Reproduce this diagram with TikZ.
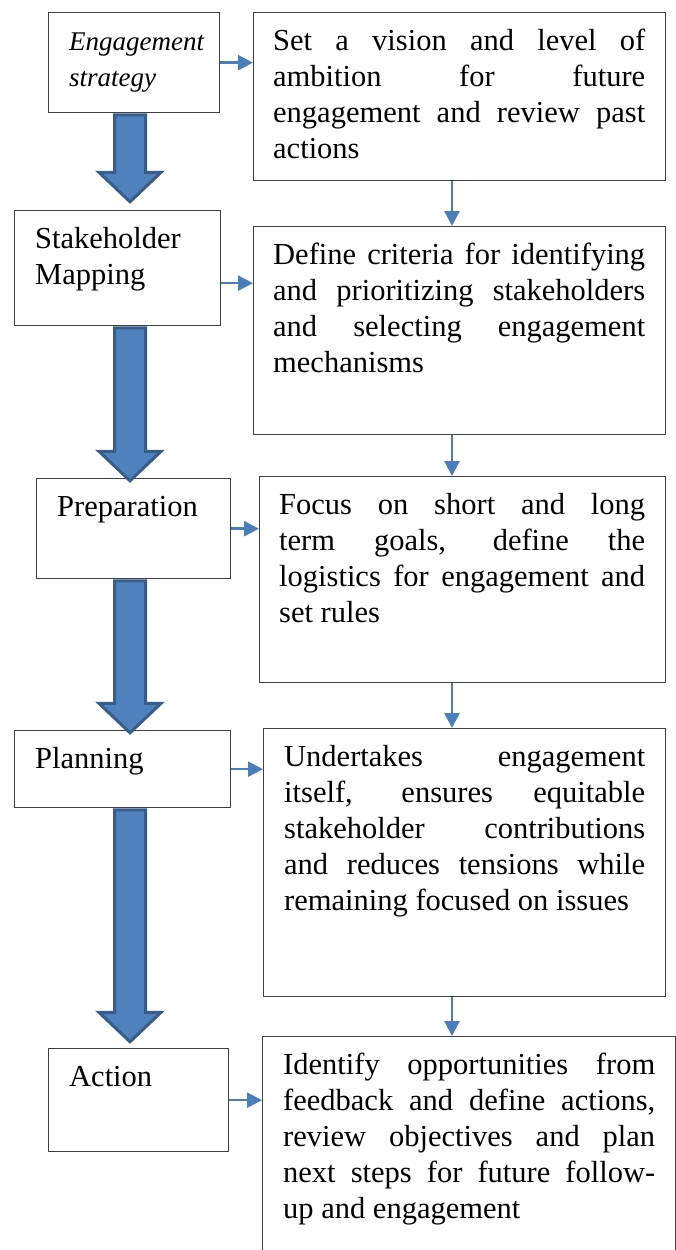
\documentclass[tikz,border=0pt]{standalone}
\usepackage{fontspec}
\setmainfont{Liberation Serif}
\usetikzlibrary{arrows.meta,positioning,calc,shapes.arrows}
\definecolor{boxgray}{RGB}{64, 64, 64}
\definecolor{linkblue}{RGB}{74, 126, 187}
\definecolor{fatfill}{RGB}{79, 129, 189}
\definecolor{fatedge}{RGB}{56, 93, 138}
\tolerance=10000
\hbadness=10000
\hyphenpenalty=10000

\begin{document}
\begin{tikzpicture}[x=1pt, y=-1pt,
		stageBox/.style={draw=boxgray, line width=1.3pt, fill=white, anchor=north west, inner sep=0pt},
		stageText/.style={anchor=base west, inner sep=0pt, text width=170pt, align=left, font=\fontsize{30.5}{36}\selectfont},
		detailText/.style={anchor=base west, inner sep=0pt, align=justify, font=\fontsize{30.5}{36}\selectfont},
		linkLine/.style={line width=2.4pt, color=linkblue, -{Triangle[length=15pt, width=15pt]}},
		fatArrow/.style={single arrow, draw=fatedge, fill=fatfill, line width=3pt, rotate=-90, anchor=tail, inner sep=0pt, text height=14pt, text depth=14pt, single arrow head extend=15.5pt, single arrow tip angle=93, single arrow head indent=0pt}
		]
		
		\path[use as bounding box, clip] (0,0) rectangle (676,1250);
		\coordinate (spine) at (130,0);
		\coordinate (rail) at (452,0);
		
		% stages on the left
		\node[stageBox, minimum width=171pt, minimum height=100pt] (strat) at (48,12) {};
		\node[stageBox, minimum width=206pt, minimum height=115pt] (map) at (14,210) {};
		\node[stageBox, minimum width=194pt, minimum height=100pt] (prep) at (36,478) {};
		\node[stageBox, minimum width=216pt, minimum height=77pt] (plan) at (14,730) {};
		\node[stageBox, minimum width=180pt, minimum height=103pt] (act) at (48,1048) {};
		
		\node[stageText, font=\fontsize{27}{36}\selectfont\itshape] (stratTxt) at ($(strat.north west)+(21,38)$) {Engagement\\strategy};
		\node[stageText] (mapTxt) at ($(map.north west)+(21,38)$) {Stakeholder\\Mapping};
		\node[stageText] (prepTxt) at ($(prep.north west)+(21,38)$) {Preparation};
		\node[stageText] (planTxt) at ($(plan.north west)+(21,38)$) {Planning};
		\node[stageText] (actTxt) at ($(act.north west)+(21,38)$) {Action};
		
		% details on the right
		\node[stageBox, minimum width=412pt, minimum height=168pt] (vision) at (253,12) {};
		\node[stageBox, minimum width=412pt, minimum height=208pt] (criteria) at (253,226) {};
		\node[stageBox, minimum width=406pt, minimum height=206pt] (goals) at (259,476) {};
		\node[stageBox, minimum width=402pt, minimum height=268pt] (engage) at (263,728) {};
		\node[stageBox, minimum width=413pt, minimum height=240pt] (follow) at (262,1036) {};
		
		\node[detailText, text width=372pt] (visionTxt) at ($(vision.north west)+(20,38)$) {Set a vision and level of\linebreak ambition for future\linebreak engagement and review past\linebreak actions};
		\node[detailText, text width=372pt] (criteriaTxt) at ($(criteria.north west)+(20,38)$) {Define criteria for identifying\linebreak and prioritizing stakeholders\linebreak and selecting engagement\linebreak mechanisms};
		\node[detailText, text width=366pt] (goalsTxt) at ($(goals.north west)+(20,38)$) {Focus on short and long\linebreak term goals, define the\linebreak logistics for engagement and\linebreak set rules};
		\node[detailText, text width=361pt] (engageTxt) at ($(engage.north west)+(21,38)$) {Undertakes engagement\linebreak itself, ensures equitable\linebreak stakeholder contributions\linebreak and reduces tensions while\linebreak remaining focused on issues};
		\node[detailText, text width=372pt] (followTxt) at ($(follow.north west)+(21,38)$) {Identify opportunities from\linebreak feedback and define actions,\linebreak review objectives and plan\linebreak next steps for future follow-\linebreak up and engagement};
		
		% big arrows down the stages
		\node[fatArrow, minimum height=87pt] (down1) at (strat.south -| spine) {};
		\node[fatArrow, minimum height=153pt] (down2) at (map.south -| spine) {};
		\node[fatArrow, minimum height=152pt] (down3) at (prep.south -| spine) {};
		\node[fatArrow, minimum height=232pt] (down4) at (plan.south -| spine) {};
		
		% links
		\draw[linkLine] (strat.east) -- (strat.east -| vision.west);
		\draw[linkLine] ($(map.east)+(0,15)$) -- ($(map.east -| criteria.west)+(0,15)$);
		\draw[linkLine] (prep.east) -- (prep.east -| goals.west);
		\draw[linkLine] (plan.east) -- (plan.east -| engage.west);
		\draw[linkLine] (act.east) -- (act.east -| follow.west);
		
		\draw[linkLine] (vision.south -| rail) -- (criteria.north -| rail);
		\draw[linkLine] (criteria.south -| rail) -- (goals.north -| rail);
		\draw[linkLine] (goals.south -| rail) -- (engage.north -| rail);
		\draw[linkLine] (engage.south -| rail) -- (follow.north -| rail);
		
		\end{tikzpicture}
\end{document}
